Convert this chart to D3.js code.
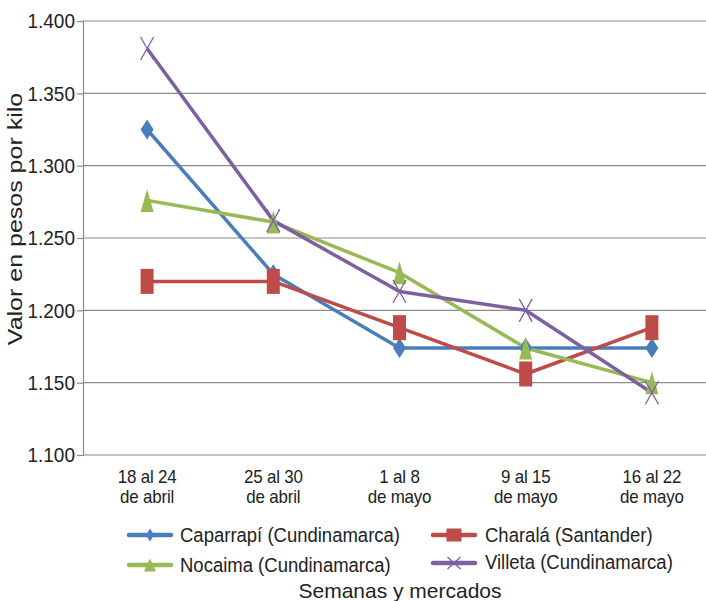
<!DOCTYPE html>
<html><head><meta charset="utf-8">
<script src="https://cdn.jsdelivr.net/npm/d3@7"></script>
<style>body{margin:0;background:#fff}svg{display:block;font-family:"Liberation Sans",Arial,sans-serif}</style>
</head><body><svg id="c" width="706" height="601"></svg>
<script>
const categories = [["18 al 24","de abril"],["25 al 30","de abril"],["1 al 8","de mayo"],["9 al 15","de mayo"],["16 al 22","de mayo"]];
const caparrapi = [1.325, 1.225, 1.174, 1.174, 1.174];
const charala   = [1.220, 1.220, 1.188, 1.156, 1.188];
const nocaima   = [1.276, 1.261, 1.226, 1.174, 1.150];
const villeta   = [1.381, 1.262, 1.213, 1.200, 1.143];
const yTicks = [1.100, 1.150, 1.200, 1.250, 1.300, 1.350, 1.400];
const yTickLabels = ["1.100","1.150","1.200","1.250","1.300","1.350","1.400"];
const seriesNames = ["Caparrapí (Cundinamarca)","Charalá (Santander)","Nocaima (Cundinamarca)","Villeta (Cundinamarca)"];
const colors = ["#4A7EBB","#BE4B48","#98B954","#7D60A0"];
const markers = ["diamond","square","triangle","x"];
const series = [caparrapi, charala, nocaima, villeta];

const svg = d3.select("#c");
const L = 84, R = 715, T = 21, B = 455;
const keys = categories.map(c => c.join(" "));
const x = d3.scalePoint().domain(keys).range([L, R]).padding(0.5);
const y = d3.scaleLinear().domain([1.1, 1.4]).range([B, T]);
const grid = "#8C8C8C";

// gridlines
svg.append("g").selectAll("line").data(yTicks.filter(v => v > 1.1)).join("line")
  .attr("x1", L - 1).attr("x2", 706).attr("y1", d => y(d)).attr("y2", d => y(d))
  .attr("stroke", grid).attr("stroke-width", 1.2);
// y axis
const ya = svg.append("g").attr("transform", `translate(${L - 1},0)`)
  .call(d3.axisLeft(y).tickValues(yTicks).tickSize(6).tickFormat((d, i) => yTickLabels[i]));
ya.select(".domain").attr("stroke", grid).attr("stroke-width", 1.2);
ya.selectAll(".tick line").attr("stroke", grid).attr("stroke-width", 1.2);
ya.selectAll(".tick text").attr("font-size", 19).attr("fill", "#222").attr("x", -8)
  .attr("font-family", "Liberation Sans, Arial").attr("dy", null)
  .attr("transform", "scale(1,1.1)").attr("y", 6.2);
// x axis baseline
svg.append("line").attr("x1", L - 1).attr("x2", 706).attr("y1", B).attr("y2", B)
  .attr("stroke", grid).attr("stroke-width", 1.2);
// x labels
const xl = svg.append("g").selectAll("g").data(categories).join("g")
  .attr("transform", (d, i) => `translate(${x(keys[i])},0)`);
[0, 1].forEach(k => {
  xl.append("text").attr("text-anchor", "middle").attr("font-size", 18.6)
    .attr("letter-spacing", -0.2).attr("fill", "#222")
    .attr("transform", `translate(0,${k === 0 ? 483 : 503}) scale(0.91,1)`)
    .text(d => d[k]);
});

// lines
const line = d3.line().x((d, i) => x(keys[i])).y(d => y(d));
series.forEach((s, si) => {
  svg.append("path").datum(s).attr("d", line).attr("fill", "none")
    .attr("stroke", colors[si]).attr("stroke-width", 3.5).attr("stroke-linejoin", "round");
});
function drawMarker(g, type, cx, cy, w, h, col) {
  if (type === "diamond") {
    g.append("path").attr("d", `M${cx},${cy - h/2}L${cx + w/2},${cy}L${cx},${cy + h/2}L${cx - w/2},${cy}Z`).attr("fill", col);
  } else if (type === "square") {
    g.append("rect").attr("x", cx - w/2).attr("y", cy - h/2).attr("width", w).attr("height", h).attr("fill", col);
  } else if (type === "triangle") {
    g.append("path").attr("d", `M${cx},${cy - h/2}L${cx + w/2},${cy + h/2}L${cx - w/2},${cy + h/2}Z`).attr("fill", col);
  } else {
    g.append("path").attr("d", `M${cx - w/2},${cy - h/2}L${cx + w/2},${cy + h/2}M${cx + w/2},${cy - h/2}L${cx - w/2},${cy + h/2}`)
      .attr("stroke", col).attr("stroke-width", 1.3).attr("fill", "none");
  }
}
const msz = {diamond:[13,20], square:[13,25], triangle:[13,23], x:[13,23]};
series.forEach((s, si) => {
  const g = svg.append("g");
  s.forEach((v, i) => drawMarker(g, markers[si], x(keys[i]), y(v), msz[markers[si]][0], msz[markers[si]][1], colors[si]));
});

// legend
const legPos = [[127, 535, 180, 542], [431, 535, 485, 542], [127, 565, 180, 572], [431, 563, 485, 569]];
const lsz = {diamond:[8,13], square:[15,13], triangle:[12,13], x:[13,12]};
seriesNames.forEach((n, i) => {
  const [lx, ly, tx, ty] = legPos[i];
  const g = svg.append("g");
  g.append("line").attr("x1", lx + 2).attr("x2", lx + 44).attr("y1", ly).attr("y2", ly)
    .attr("stroke", colors[i]).attr("stroke-width", 4.5).attr("stroke-linecap", "round");
  drawMarker(g, markers[i], lx + 23, ly, lsz[markers[i]][0], lsz[markers[i]][1], colors[i]);
  g.append("text").attr("font-size", 18.5).attr("fill", "#222")
    .attr("transform", `translate(${tx},${ty}) scale(1,1.08)`).text(n);
});

// axis titles
svg.append("text").attr("text-anchor", "middle").attr("font-size", 21).attr("fill", "#222")
  .attr("transform", "translate(400,598)").text("Semanas y mercados");
svg.append("text").attr("text-anchor", "middle").attr("font-size", 21).attr("fill", "#222")
  .attr("transform", "translate(22,219) rotate(-90) scale(1.19,1)").text("Valor en pesos por kilo");
</script></body></html>
